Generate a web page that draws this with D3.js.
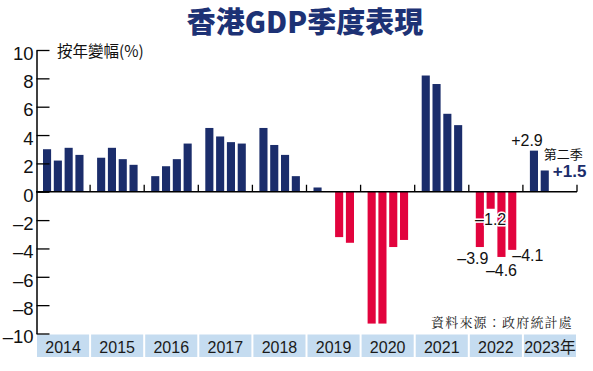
<!DOCTYPE html>
<html><head><meta charset="utf-8">
<script src="https://cdn.jsdelivr.net/npm/d3@7"></script>
<style>body{margin:0;background:#fff}</style>
</head><body>
<svg id="c" width="593" height="371"></svg>
<script>
// ---- data ----
const years = [2014, 2015, 2016, 2017, 2018, 2019, 2020, 2021, 2022, 2023];
const yearLabels = ["2014", "2015", "2016", "2017", "2018", "2019", "2020", "2021", "2022", "2023年"];
const quarters = [0, 1, 2, 3];
const growth = [
  [3.0, 2.2, 3.1, 2.6],   // 2014
  [2.4, 3.1, 2.3, 1.9],   // 2015
  [1.1, 1.8, 2.3, 3.4],   // 2016
  [4.5, 3.9, 3.5, 3.4],   // 2017
  [4.5, 3.3, 2.6, 1.1],   // 2018
  [0.3, 0.0, -3.2, -3.6], // 2019
  [-9.3, -9.3, -3.9, -3.4], // 2020
  [8.2, 7.6, 5.5, 4.7],   // 2021
  [-3.9, -1.2, -4.6, -4.1], // 2022
  [2.9, 1.5]              // 2023
];
const yTicks = [-10, -8, -6, -4, -2, 0, 2, 4, 6, 8, 10];
const yTickLabels = ["–10", "–8", "–6", "–4", "–2", "0", "2", "4", "6", "8", "10"];
const titleText = "香港GDP季度表現";
const yAxisTitle = "按年變幅(%)";
const sourceText = "資料來源：政府統計處";
const valueLabels = [
  {year: 2022, q: 0, text: "–3.9"},
  {year: 2022, q: 1, text: "–1.2"},
  {year: 2022, q: 2, text: "–4.6"},
  {year: 2022, q: 3, text: "–4.1"},
  {year: 2023, q: 0, text: "+2.9"}
];
const latestLabel = {year: 2023, q: 1, name: "第二季", text: "+1.5"};

// ---- drawing ----
const NAVY = "#1b2d6b", RED = "#e2033d", BAND = "#c5dcf0";
const NUMFONT = "'Liberation Sans Narrow','Liberation Sans',Arial,sans-serif";
const svg = d3.select("#c");

const x0 = d3.scaleBand().domain(years).range([36, 577]).padding(0);
const x1 = d3.scaleBand().domain(quarters).range([7, 47.5]).paddingInner(0.25).paddingOuter(0);
const y = d3.scaleLinear().domain([-10, 10]).range([333.5, 50]);

const bars = [];
years.forEach((yr, i) => growth[i].forEach((v, q) => bars.push({year: yr, q, v})));
const bx = d => x0(d.year) + x1(d.q);
const bw = x1.bandwidth();

// title
svg.append("text").attr("x", 305).attr("y", 33).attr("text-anchor", "middle")
  .attr("font-family", "'Noto Sans CJK TC','Noto Sans CJK SC',sans-serif")
  .attr("font-weight", 900).attr("font-size", 29).attr("fill", "#1d3275")
  .text(titleText);

// year band
const band = svg.append("g");
band.selectAll("rect").data(years).join("rect")
  .attr("x", d => x0(d) + 1).attr("width", x0.bandwidth() - 2)
  .attr("y", 334.5).attr("height", 22.5).attr("fill", BAND);
band.selectAll("text").data(years).join("text")
  .attr("x", d => x0(d) + x0.bandwidth() / 2).attr("y", 353)
  .attr("text-anchor", "middle").attr("font-family", NUMFONT + ",'Noto Sans CJK TC'")
  .attr("font-size", 16).attr("fill", "#1a1a1a")
  .text((d, i) => yearLabels[i]);

// bars
svg.append("g").selectAll("rect").data(bars).join("rect")
  .attr("x", bx).attr("width", bw)
  .attr("y", d => Math.min(y(d.v), y(0)))
  .attr("height", d => Math.abs(y(d.v) - y(0)))
  .attr("fill", d => d.v >= 0 ? NAVY : RED);

// zero line and year separators
const base = svg.append("g").attr("stroke", "#000");
base.append("line").attr("x1", x0.range()[0]).attr("x2", x0.range()[1])
  .attr("y1", y(0)).attr("y2", y(0)).attr("stroke-width", 1.5);
base.selectAll("line.sep").data(years).join("line").attr("class", "sep")
  .attr("x1", d => x0(d) + x0.bandwidth()).attr("x2", d => x0(d) + x0.bandwidth())
  .attr("y1", y(0)).attr("y2", y(0) - 7).attr("stroke-width", 1.3);

// y axis
const ya = svg.append("g").attr("transform", "translate(36.5,0)")
  .call(d3.axisLeft(y).tickValues(yTicks).tickFormat((d, i) => yTickLabels[i])
    .tickSizeInner(-13).tickSizeOuter(0).tickPadding(3));
ya.select(".domain").attr("stroke", "#000").attr("stroke-width", 1.5);
ya.selectAll(".tick line").attr("stroke", "#000").attr("stroke-width", 1.3);
ya.selectAll(".tick text").attr("font-family", NUMFONT).attr("font-size", 18.5)
  .attr("fill", "#111").attr("dy", "0.5em");

// axis title
svg.append("text").attr("x", 57).attr("y", 57)
  .attr("font-family", "'Noto Sans CJK TC',sans-serif").attr("font-size", 15.5).attr("fill", "#111")
  .text(yAxisTitle);

// value labels
const vl = svg.append("g").attr("font-family", NUMFONT).attr("font-size", 16).attr("fill", "#111")
  .attr("stroke", "#fff").attr("stroke-width", 3).attr("paint-order", "stroke").attr("stroke-linejoin", "round");
const val = d => growth[years.indexOf(d.year)][d.q];
const cx = d => bx(d) + bw / 2;
valueLabels.forEach(d => {
  const v = val(d);
  let xx = cx(d), yy, anchor = "middle";
  if (d.year === 2023) { xx = cx(d) - 7; yy = y(v) - 5; }
  else if (d.q === 0) { xx = cx(d) - 7; yy = y(v) + 17; }
  else if (d.q === 1) { yy = y(v) + 16.5; }
  else if (d.q === 2) { yy = y(v) + 19.5; }
  else { xx = bx(d) + bw - 4; yy = y(v) + 11; anchor = "start"; }
  vl.append("text").attr("x", xx).attr("y", yy).attr("text-anchor", anchor).text(d.text);
});
const lv = val(latestLabel);
svg.append("text").attr("x", bx(latestLabel) + bw - 5).attr("y", y(lv) - 11)
  .attr("font-family", "'Noto Sans CJK TC',sans-serif").attr("font-size", 13).attr("fill", "#111")
  .text(latestLabel.name);
svg.append("text").attr("x", bx(latestLabel) + bw + 4).attr("y", y(lv) + 7)
  .attr("font-family", NUMFONT).attr("font-weight", "bold").attr("font-size", 17).attr("fill", NAVY)
  .text(latestLabel.text);

// source
svg.append("text").attr("x", 573).attr("y", 327).attr("text-anchor", "end")
  .attr("font-family", "'Noto Serif CJK TC','Noto Sans CJK TC',serif").attr("font-size", 13)
  .attr("letter-spacing", 1.2).attr("fill", "#222")
  .text(sourceText);
</script>
</body></html>
